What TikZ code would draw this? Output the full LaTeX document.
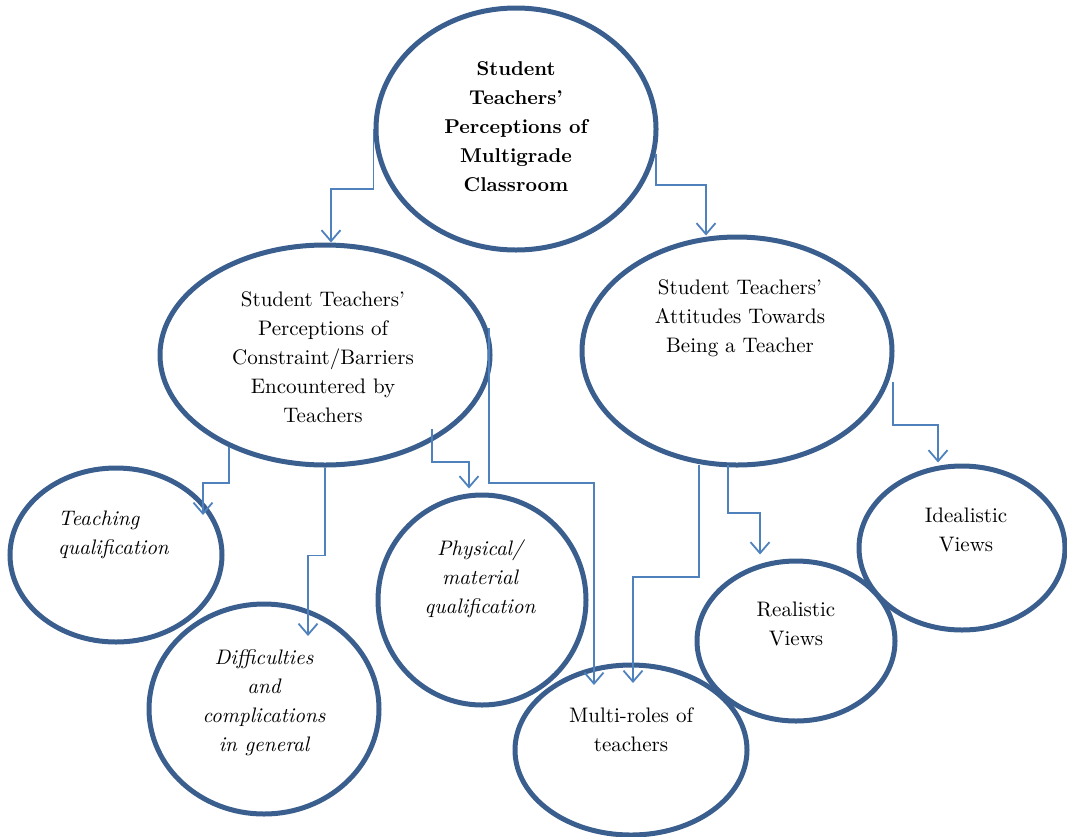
\documentclass[tikz,border=0pt]{standalone}
\usepackage{fontspec}
\setmainfont{lmroman10-regular.otf}[BoldFont=lmroman10-bold.otf,ItalicFont=lmroman10-italic.otf]
\usepackage{tikz}
\usetikzlibrary{arrows.meta,calc,shapes.geometric}
\definecolor{ringblue}{HTML}{3A5F8E}
\definecolor{linkblue}{HTML}{4F81BD}
\tikzset{
  bubble/.style={ellipse,draw=ringblue,line width=5pt,inner sep=0pt},
  link/.style={-{Straight Barb[length=11pt,width=19pt]},linkblue,line width=1.8pt},
  words/.style={align=center,inner sep=0pt,font=\fontsize{21}{29}\selectfont}
}

\begin{document}
\begin{tikzpicture}[x=1pt,y=-1pt]
    \useasboundingbox (0,0) rectangle (1067,836);

    % ellipses
    \node[bubble,minimum width=280pt,minimum height=242pt] (top) at (516,129) {};
    \node[bubble,minimum width=330pt,minimum height=220pt] (cons) at (325,355) {};
    \node[bubble,minimum width=310pt,minimum height=228pt] (att) at (737,351) {};
    \node[bubble,minimum width=212pt,minimum height=174pt] (teach) at (116,555) {};
    \node[bubble,minimum width=230pt,minimum height=210pt] (diff) at (264,709) {};
    \node[bubble,minimum width=208pt,minimum height=210pt] (phys) at (482,600) {};
    \node[bubble,minimum width=232pt,minimum height=170pt] (multi) at (631,750) {};
    \node[bubble,minimum width=198pt,minimum height=160pt] (real) at (796,641) {};
    \node[bubble,minimum width=206pt,minimum height=164pt] (ideal) at (962,548) {};

    % texts
    \node[words,font=\fontsize{20}{29}\selectfont\bfseries] (topT) at (516,127)
      {Student\\Teachers'\\Perceptions of\\Multigrade\\Classroom};
    \node[words] (consT) at (323,357)
      {Student Teachers'\\Perceptions of\\Constraint/Barriers\\Encountered by\\Teachers};
    \node[words] (attT) at (740,318)
      {Student Teachers'\\Attitudes Towards\\Being a Teacher};
    \node[words,align=left,anchor=west,font=\fontsize{21}{29}\selectfont\itshape] (teachT) at (58,535)
      {Teaching\\qualification};
    \node[words,font=\fontsize{21}{29}\selectfont\itshape] (diffT) at (264,703)
      {Difficulties\\and\\complications\\in general};
    \node[words,font=\fontsize{21}{29}\selectfont\itshape] (physT) at (480,579)
      {Physical/\\material\\qualification};
    \node[words] (multiT) at (631,730) {Multi-roles of\\teachers};
    \node[words] (realT) at (796,624) {Realistic\\Views};
    \node[words] (idealT) at (966,530) {Idealistic\\Views};

    % connectors
    \draw[link] (top.west) -- ++(0,60) -| ($(cons.north)+(6,0)$);
    \draw[link] (top.-10) -- ++(0,31) -| ($(att.north)+(-31,1)$);
    \draw[link] (cons.224) -- ++(0,36) -| ($(teach)+(87,-40)$);
    \draw[link] (cons.south) -- ++(0,88) -| ($(diff)+(44,-73)$);
    \draw[link] ($(cons)+(107,74)$) -- ++(0,33) -| ($(phys.north)+(-13,-4)$);
    \draw[link] ($(cons)+(164,-27)$) -- ++(0,155) -| ($(multi)+(-37,-65)$);
    \draw[link] ($(att)+(-38,114)$) -- ++(0,112) -| ($(multi)+(2,-67)$);
    \draw[link] ($(att)+(-9,114)$) -- ++(0,48) -| ($(real.north)+(-36,-4)$);
    \draw[link] ($(att)+(156,31)$) -- ++(0,43) -| ($(ideal.north)+(-24,-1)$);
  \end{tikzpicture}
\end{document}
